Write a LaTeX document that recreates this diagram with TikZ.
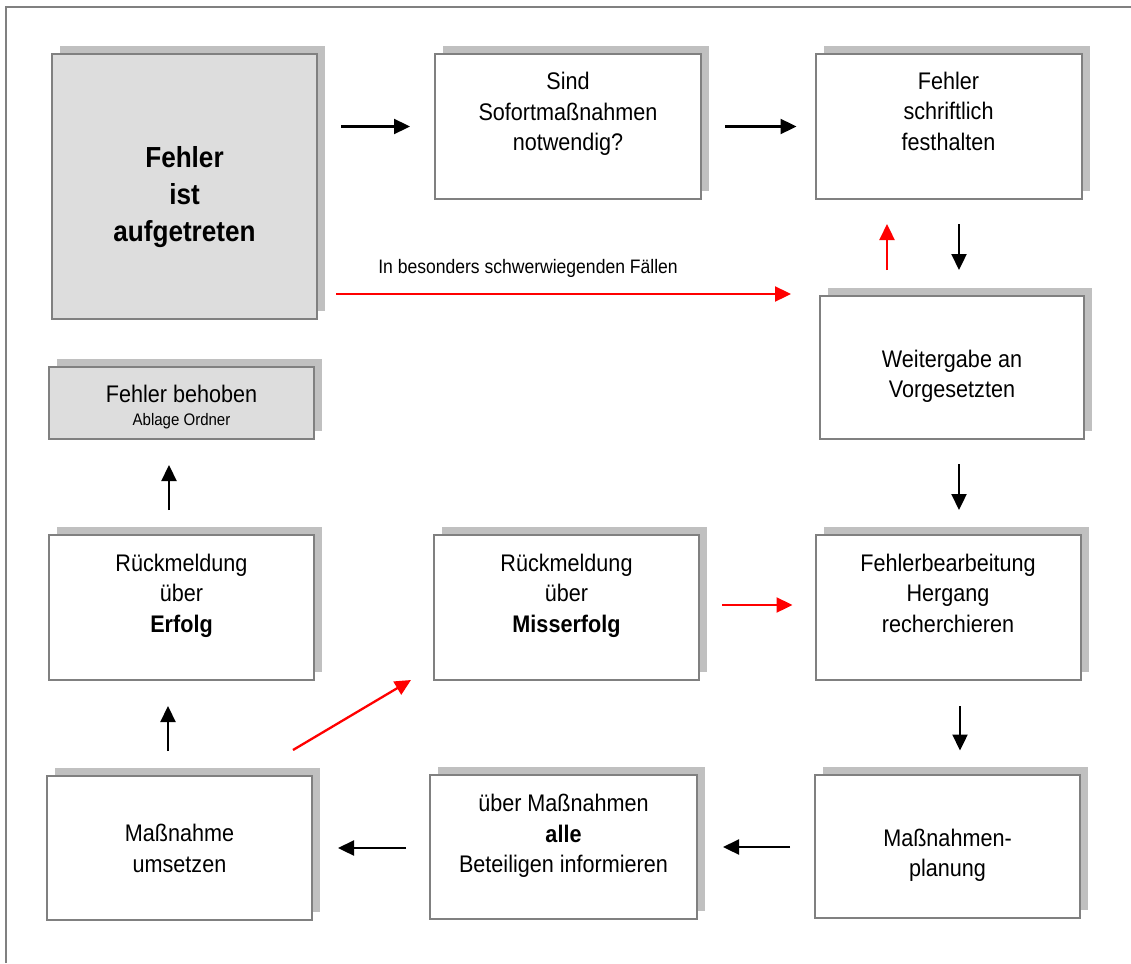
\documentclass[tikz,border=0pt]{standalone}
\usepackage{fontspec}
\setmainfont{Liberation Sans}[FakeStretch=0.9]
\usetikzlibrary{arrows.meta,calc,shadows}
\definecolor{framegray}{RGB}{128,128,128}
\definecolor{shadegray}{RGB}{192,192,192}
\definecolor{panelgray}{RGB}{221,221,221}
\definecolor{alertred}{RGB}{255,0,0}

\begin{document}
\begin{tikzpicture}[x=1pt,y=-1pt,
  card/.style={rectangle, draw=framegray, line width=2pt, fill=white, inner sep=0pt,
    drop shadow={shadow xshift=8pt, shadow yshift=8pt, fill=shadegray, opacity=1}},
  grey card/.style={card, fill=panelgray},
  std/.style={minimum width=265pt, minimum height=145pt},
  cardtext/.style={align=center, inner sep=0pt, font=\fontsize{24}{30.5}\selectfont},
  flow/.style={line width=2.3pt, color=black, -{Triangle[length=16pt,width=15pt]}},
  alert/.style={flow, color=alertred},
]
\useasboundingbox (0,0) rectangle (1131,963);

% outer frame (top and left edges)
\draw[framegray, line width=2pt] (6,963) -- (6,7) -- (1131,7);

% process boxes
\node[grey card, minimum width=265pt, minimum height=265pt] (A) at (184.5,186.5) {};
\node[card, std, minimum width=266pt] (B) at (568,126.5) {};
\node[card, std, minimum width=266pt] (C) at (948.5,126.5) {};
\node[card, minimum width=264pt, minimum height=143pt] (D) at (952,367.5) {};
\node[grey card, minimum width=265pt, minimum height=72pt] (E) at (181.5,403) {};
\node[card, std] (F) at (181.5,607.5) {};
\node[card, std] (G) at (566.5,607.5) {};
\node[card, std] (H) at (948,607.5) {};
\node[card, std, minimum height=143pt] (I) at (947.5,846.5) {};
\node[card, std, minimum width=267pt, minimum height=144pt] (J) at (563.5,847) {};
\node[card, std, minimum height=144pt] (K) at (179.5,848) {};

% box texts
\node[cardtext, font=\fontsize{29}{37}\selectfont\bfseries] (tA) at (184.5,197.5) {Fehler\\ist\\aufgetreten};
\node[cardtext] (tB) at (568,113.8) {Sind\\Sofortmaßnahmen\\notwendig?};
\node[cardtext] (tC) at (948.5,111.3) {Fehler\\schriftlich\\festhalten};
\node[cardtext] (tD) at (952,376.3) {Weitergabe an\\Vorgesetzten};
\node[cardtext, font=\fontsize{24}{23}\selectfont] (tE) at (181.5,407.5) {Fehler behoben\\{\fontsize{16.7}{19}\selectfont Ablage Ordner}};
\node[cardtext] (tF) at (181.5,595.8) {Rückmeldung\\über\\\textbf{Erfolg}};
\node[cardtext] (tG) at (566.5,595.8) {Rückmeldung\\über\\\textbf{Misserfolg}};
\node[cardtext] (tH) at (948,593.3) {Fehlerbearbeitung\\Hergang\\recherchieren};
\node[cardtext] (tI) at (947.5,855.5) {Maßnahmen-\\planung};
\node[cardtext] (tJ) at (563.5,835.8) {über Maßnahmen\\\textbf{alle}\\Beteiligen informieren};
\node[cardtext] (tK) at (179.5,848.3) {Maßnahme\\umsetzen};

% connectors
\draw[flow] ($(A.east |- B.west)+(23,0)$) -- ($(B.west)+(-24,0)$);
\draw[flow] ($(B.east)+(23,0)$) -- ($(C.west)+(-18,0)$);
\draw[flow] ($(C.south)+(10.5,24)$) -- ($(D.north)+(7,-25)$);
\draw[alert] ($(D.north)+(-65,-25)$) -- ($(C.south)+(-61.5,24)$);
\draw[alert] ($(A.east |- D.north)+(18,-1)$) --
  node[pos=0.422, yshift=26pt, text=black, inner sep=0pt, font=\fontsize{19.5}{22}\selectfont] (lbl) {In besonders schwerwiegenden Fällen}
  ($(D.north west)+(-28,-1)$);
\draw[flow] ($(D.south)+(7,24)$) -- ($(H.north)+(11,-24)$);
\draw[alert] ($(G.east)+(22,-2.5)$) -- ($(H.west)+(-22,-2.5)$);
\draw[flow] ($(H.south)+(12,25)$) -- ($(I.north)+(12.5,-23.5)$);
\draw[flow] ($(I.west)+(-24,0.5)$) -- ($(J.east)+(25,0)$);
\draw[flow] ($(J.west)+(-23,1)$) -- ($(K.east)+(25,0)$);
\draw[flow] ($(K.north)+(-11.5,-24)$) -- ($(F.south)+(-13.5,25)$);
\draw[flow] ($(F.north)+(-12.5,-24)$) -- ($(E.south)+(-12.5,25)$);
\draw[alert] ($(K.north east)+(-20,-25)$) -- ($(G.south west)+(-22,-1)$);
\end{tikzpicture}
\end{document}
